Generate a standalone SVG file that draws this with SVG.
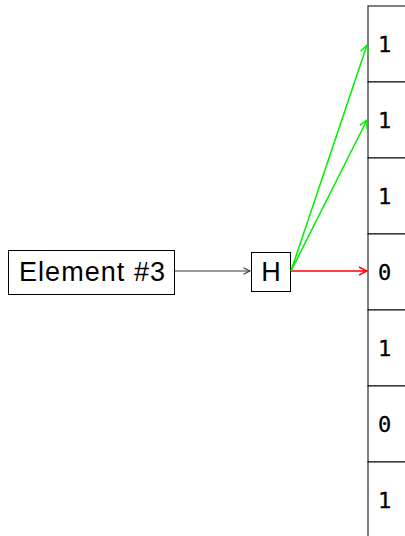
<svg xmlns="http://www.w3.org/2000/svg" width="405" height="536" viewBox="0 0 405 536">
<style>
.box{fill:#fff;stroke:#000;stroke-width:1}
.lbl{font-family:"Liberation Sans",Arial,sans-serif;font-size:27px;fill:#000}
.cell{fill:#fff;stroke:#000;stroke-width:1}
.bit{font-family:"DejaVu Sans Mono",monospace;font-size:22px;fill:#000;stroke:#000;stroke-width:0.3}
.c{fill:none;stroke-width:1.5}
</style>
<defs>
<marker id="ak" viewBox="0 0 10 10" refX="9" refY="5" markerWidth="8" markerHeight="8" markerUnits="userSpaceOnUse" orient="auto"><path d="M1,1 L9,5 L1,9" fill="none" stroke="#333" stroke-width="1.3"/></marker>
<marker id="ar" viewBox="0 0 10 10" refX="9" refY="5" markerWidth="10" markerHeight="10" markerUnits="userSpaceOnUse" orient="auto"><path d="M1,1 L9,5 L1,9" fill="none" stroke="#f00" stroke-width="1.5"/></marker>
<marker id="ag" viewBox="0 0 10 10" refX="9" refY="5" markerWidth="10" markerHeight="10" markerUnits="userSpaceOnUse" orient="auto"><path d="M1,1 L9,5 L1,9" fill="none" stroke="#0e0" stroke-width="1.5"/></marker>
</defs>
<g id="register">
<rect class="cell" x="368" y="6" width="60" height="76"/>
<rect class="cell" x="368" y="82" width="60" height="76"/>
<rect class="cell" x="368" y="158" width="60" height="76"/>
<rect class="cell" x="368" y="234" width="60" height="76"/>
<rect class="cell" x="368" y="310" width="60" height="76"/>
<rect class="cell" x="368" y="386" width="60" height="76"/>
<rect class="cell" x="368" y="462" width="60" height="76"/>
<text class="bit" x="378" y="52">1</text>
<text class="bit" x="378" y="128">1</text>
<text class="bit" x="378" y="204">1</text>
<text class="bit" x="378" y="280">0</text>
<text class="bit" x="378" y="356">1</text>
<text class="bit" x="378" y="432">0</text>
<text class="bit" x="378" y="508">1</text>
</g>
<g id="element">
<rect class="box" x="8.5" y="250.5" width="166" height="44"/>
<text class="lbl" x="92" y="281" text-anchor="middle" textLength="146">Element #3</text>
</g>
<g id="hadamard">
<rect class="box" x="251.5" y="252.5" width="39" height="39"/>
<text class="lbl" x="271" y="281" text-anchor="middle">H</text>
</g>
<g id="connectors">
<line x1="175" y1="271" x2="250" y2="271" stroke="#333" stroke-width="1" marker-end="url(#ak)"/>
<line class="c" x1="291" y1="271" x2="367" y2="271" stroke="#f00" marker-end="url(#ar)"/>
<line class="c" x1="291" y1="271" x2="367" y2="45" stroke="#0e0" marker-end="url(#ag)"/>
<line class="c" x1="291" y1="271" x2="367" y2="120" stroke="#0e0" marker-end="url(#ag)"/>
</g>
</svg>
